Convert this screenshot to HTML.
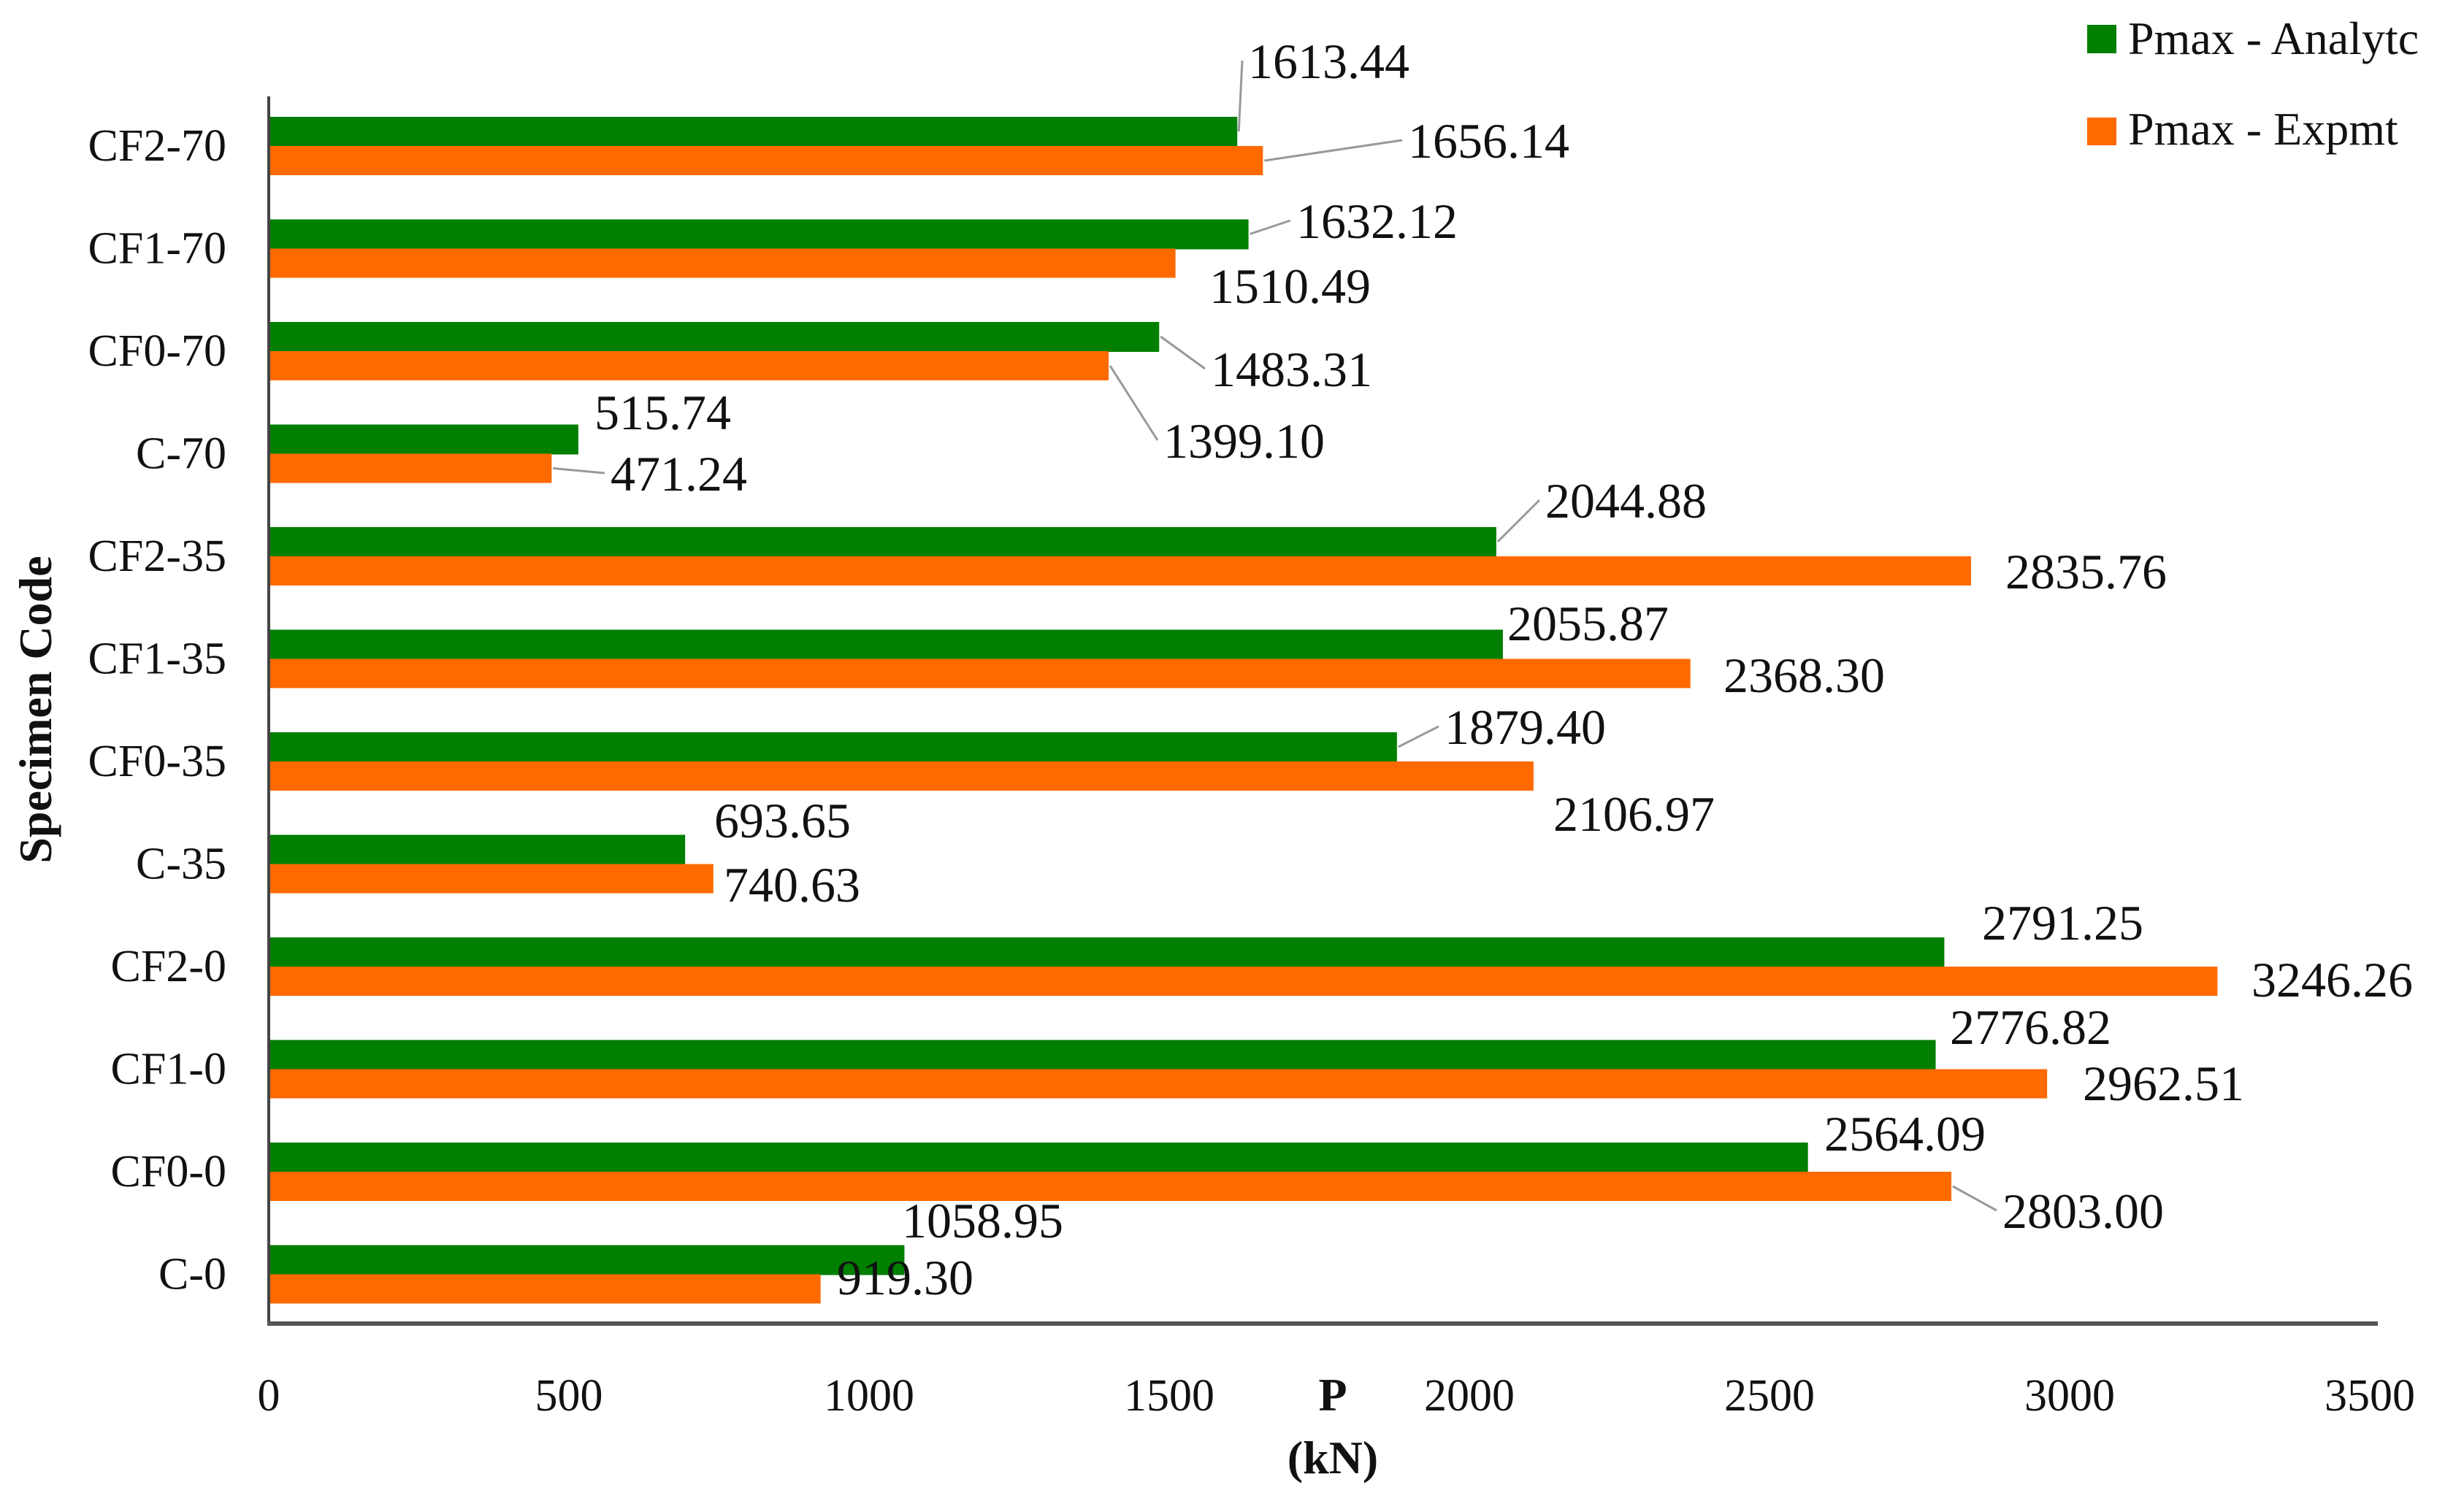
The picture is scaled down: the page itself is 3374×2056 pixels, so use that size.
<!DOCTYPE html>
<html><head><meta charset="utf-8">
<style>
html,body{margin:0;padding:0;background:#fff;}
svg{display:block;font-family:"Liberation Serif",serif;}
</style></head>
<body>
<svg id="chart" width="3374" height="2056" viewBox="0 0 3374 2056" xmlns="http://www.w3.org/2000/svg">
<rect x="0" y="0" width="3374" height="2056" fill="#fff"/>
<g id="plot"></g>
<g>
  <rect x="2858" y="34" width="40" height="39" fill="#007f00"/>
  <text x="2914" y="74" font-size="64" fill="#111">Pmax - Analytc</text>
  <rect x="2858" y="161" width="40" height="38" fill="#ff6a00"/>
  <text x="2914" y="198" font-size="64" fill="#111">Pmax - Expmt</text>
</g>
<text x="0" y="0" transform="translate(70,972) rotate(-90)" text-anchor="middle" font-size="64" font-weight="bold" fill="#111">Specimen Code</text>
<text x="1825" y="1932" text-anchor="middle" font-size="64" font-weight="bold" fill="#111">P</text>
<text x="1825" y="2018" text-anchor="middle" font-size="64" font-weight="bold" fill="#111">(kN)</text>
</svg>
<script>
const categories = ["CF2-70","CF1-70","CF0-70","C-70","CF2-35","CF1-35","CF0-35","C-35","CF2-0","CF1-0","CF0-0","C-0"];
const analytic = [1613.44,1632.12,1483.31,515.74,2044.88,2055.87,1879.40,693.65,2791.25,2776.82,2564.09,1058.95];
const experiment = [1656.14,1510.49,1399.10,471.24,2835.76,2368.30,2106.97,740.63,3246.26,2962.51,2803.00,919.30];
const xTicks = [0,500,1000,1500,2000,2500,3000,3500];
// label placement (layout only): [left x, baseline y] for analytic and experiment labels
const labelLayoutA = [[1709,107],[1775,326],[1658,529],[814,588],[2116,709],[2064,877],[1978,1019],[978,1147],[2714,1287],[2670,1430],[2498,1576],[1235,1695]];
const labelLayoutE = [[1928,216],[1656,415],[1593,627],[836,672],[2746,806],[2360,948],[2127,1138],[991,1235],[3083,1365],[2852,1507],[2742,1682],[1146,1773]];
const leaderA = [true,true,true,false,true,false,true,false,false,false,false,false];
const leaderE = [true,false,true,true,false,false,false,false,false,false,true,false];

const NS = "http://www.w3.org/2000/svg";
const plot = document.getElementById('plot');
const X0 = 368, XK = (3245-368)/3500;
const Y0 = 160, PITCH = 140.5, BH = 40;
function xScale(v){ return X0 + v*XK; }
function yScale(i){ return Y0 + i*PITCH; }
function mk(tag, attrs){ const e=document.createElementNS(NS,tag); for(const k in attrs) e.setAttribute(k,attrs[k]); plot.appendChild(e); return e; }

categories.forEach((c,i)=>{
  const y = yScale(i);
  const g = mk('rect',{x:X0,y:y,width:xScale(analytic[i])-X0,height:BH+1,fill:'#007f00'});
  
  
  const o = mk('rect',{x:X0,y:y+BH,width:xScale(experiment[i])-X0,height:BH,fill:'#ff6a00'});
  
  
  const t = mk('text',{x:310,y:y+BH+20,'text-anchor':'end','font-size':62,fill:'#111'});
  t.textContent = c;
  
  
  // data labels
  const la = labelLayoutA[i], le = labelLayoutE[i];
  if(leaderA[i]){
    const l = mk('polyline',{points:`${xScale(analytic[i])+2},${y+BH/2} ${la[0]-8},${la[1]-24}`,stroke:'#999',fill:'none','stroke-width':3});
    
    
  }
  if(leaderE[i]){
    const l = mk('polyline',{points:`${xScale(experiment[i])+2},${y+BH*1.5} ${le[0]-8},${le[1]-24}`,stroke:'#999',fill:'none','stroke-width':3});
    
    
  }
  const ta = mk('text',{x:la[0],y:la[1],'font-size':68,fill:'#111'});
  ta.textContent = analytic[i].toFixed(2);
  
  
  const te = mk('text',{x:le[0],y:le[1],'font-size':68,fill:'#111'});
  te.textContent = experiment[i].toFixed(2);
  
  
});
const ya = mk('line',{x1:X0,y1:132,x2:X0,y2:1814,stroke:'#444','stroke-width':4});


const xa = mk('line',{x1:X0-2,y1:1813,x2:3256,y2:1813,stroke:'#555','stroke-width':6});


xTicks.forEach(v=>{
  const t = mk('text',{x:xScale(v),y:1932,'text-anchor':'middle','font-size':62,fill:'#111'});
  t.textContent = v;
  
  
});
</script>
</body></html>
